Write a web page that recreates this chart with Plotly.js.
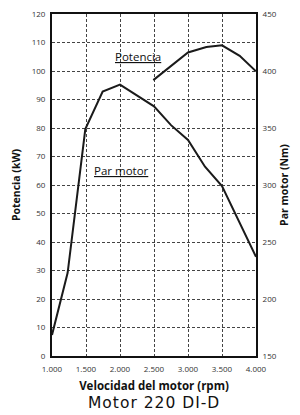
<!DOCTYPE html>
<html><head><meta charset="utf-8">
<script src="https://cdn.plot.ly/plotly-3.0.1.min.js"></script>
<style>html,body{margin:0;padding:0;background:#fff}#c{width:300px;height:415px}</style>
</head><body><div id="c"></div>
<script>
// Potencia (kW) - left axis
const rpmPotencia = [2490, 3000, 3270, 3500, 3760, 4000];
const potencia = [96.8, 106.5, 108.4, 109, 105.3, 99.9];
// Par motor (Nm) - right axis
const rpmPar = [1000, 1230, 1490, 1745, 2000, 2500, 2750, 3000, 3250, 3500, 4000];
const parMotor = [168.5, 223, 349, 382, 388, 369, 352.5, 339.5, 316, 299, 237];
// ticks
const xTicks = [1000, 1500, 2000, 2500, 3000, 3500, 4000];
const xTickText = ['1.000', '1.500', '2.000', '2.500', '3.000', '3.500', '4.000'];
const yTicks = [0, 10, 20, 30, 40, 50, 60, 70, 80, 90, 100, 110, 120];
const y2Ticks = [150, 200, 250, 300, 350, 400, 450];

const F = 'Open Sans, sans-serif';
const lineStyle = {color: '#1a1a1a', width: 2};
const data = [
  {x: rpmPotencia, y: potencia, type: 'scatter', mode: 'lines', line: lineStyle, yaxis: 'y', hoverinfo: 'skip'},
  {x: rpmPar, y: parMotor, type: 'scatter', mode: 'lines', line: lineStyle, yaxis: 'y2', hoverinfo: 'skip'}
];
const grid = {showgrid: true, gridcolor: '#444', griddash: '3px,2px', gridwidth: 1};
const layout = {
  width: 300, height: 415,
  margin: {l: 52, r: 44, t: 14, b: 59},
  paper_bgcolor: '#fff', plot_bgcolor: '#fff',
  showlegend: false,
  font: {family: F, color: '#222'},
  xaxis: Object.assign({
    range: [1000, 4000], tickvals: xTicks, ticktext: xTickText,
    showline: true, linecolor: '#111', linewidth: 2, mirror: true,
    ticks: '', zeroline: false, ticklabelstandoff: 4,
    tickfont: {size: 8, family: F, color: '#333'},
    title: {text: '<b>Velocidad del motor (rpm)</b>', font: {size: 11.5, family: F, color: '#111'}, standoff: 9}
  }, grid),
  yaxis: Object.assign({
    range: [0, 120], tickvals: yTicks,
    showline: true, linecolor: '#111', linewidth: 2,
    ticks: '', zeroline: false, ticklabelstandoff: 3,
    tickfont: {size: 8, family: F, color: '#333'},
    title: {text: '<b>Potencia (kW)</b>', font: {size: 10.5, family: F, color: '#111'}, standoff: 9}
  }, grid),
  yaxis2: {
    range: [150, 450], tickvals: y2Ticks, overlaying: 'y', side: 'right',
    showgrid: false, showline: true, linecolor: '#111', linewidth: 2,
    ticks: '', zeroline: false, ticklabelstandoff: 3,
    tickfont: {size: 8, family: F, color: '#333'},
    title: {text: '<b>Par motor (Nm)</b>', font: {size: 10.5, family: F, color: '#111'}, standoff: 5}
  },
  annotations: [
    {text: '<u>Potencia</u>', x: 2265, y: 105, xref: 'x', yref: 'y', showarrow: false,
     font: {size: 11.5, family: F, color: '#111'}},
    {text: '<u>Par motor</u>', x: 2015, y: 65, xref: 'x', yref: 'y', showarrow: false,
     font: {size: 11.5, family: F, color: '#111'}},
    {text: '<span style="letter-spacing:1px">Motor 220 DI-D</span>', x: 0.5, y: -0.104, xref: 'paper', yref: 'paper', yanchor: 'top', showarrow: false,
     font: {size: 15.5, family: 'DejaVu Sans, sans-serif', color: '#111'}}
  ]
};
Plotly.newPlot('c', data, layout, {staticPlot: true, displayModeBar: false});
</script></body></html>
